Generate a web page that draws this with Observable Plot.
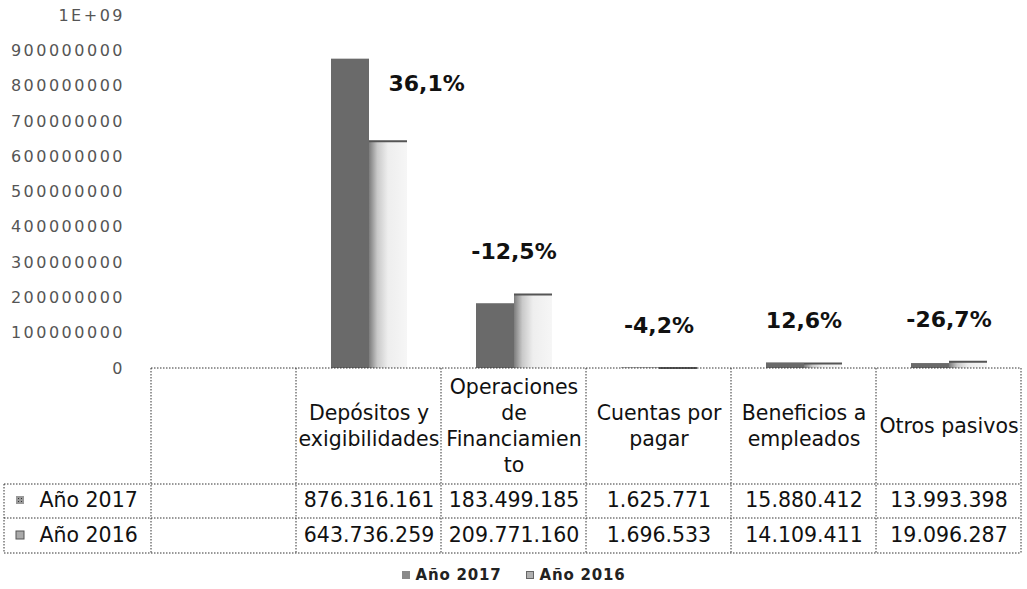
<!DOCTYPE html>
<html>
<head>
<meta charset="utf-8">
<script src="https://cdn.jsdelivr.net/npm/d3@7"></script>
<script src="https://cdn.jsdelivr.net/npm/@observablehq/plot@0.6"></script>
<style>
  body { margin: 0; background: #fff; }
  #chart svg { display: block; }
  #chart g[aria-label="y-axis tick label"] text { letter-spacing: 2.5px; }
  #legend { height: 29px; display: flex; justify-content: center; align-items: center; gap: 24px;
            font: bold 15px "DejaVu Sans", sans-serif; letter-spacing: 0.8px; color: #222; }
  #legend .item { display: flex; align-items: center; }
  #legend .sw { display: block; width: 8px; height: 8px; margin-right: 6px; flex: none; }
</style>
</head>
<body>
<div id="chart"></div>
<div id="legend"></div>
<script>
// ---- data ----
const categories = ["Depósitos y exigibilidades", "Operaciones de Financiamiento", "Cuentas por pagar", "Beneficios a empleados", "Otros pasivos"];
const blankColumn = " ";
const series = ["Año 2017", "Año 2016"];
const values2017 = [876316161, 183499185, 1625771, 15880412, 13993398];
const values2016 = [643736259, 209771160, 1696533, 14109411, 19096287];
const changeLabels = ["36,1%", "-12,5%", "-4,2%", "12,6%", "-26,7%"];
const headerLines = [["Depósitos y", "exigibilidades"], ["Operaciones", "de", "Financiamien", "to"], ["Cuentas por", "pagar"], ["Beneficios a", "empleados"], ["Otros pasivos"]];
const yTicks = [0, 100000000, 200000000, 300000000, 400000000, 500000000, 600000000, 700000000, 800000000, 900000000, 1000000000];
const yTickLabels = ["0", "100000000", "200000000", "300000000", "400000000", "500000000", "600000000", "700000000", "800000000", "900000000", "1E+09"];

// ---- derived tables ----
const rows = categories.flatMap((c, i) => [
  {cat: c, series: series[0], value: values2017[i]},
  {cat: c, series: series[1], value: values2016[i]}
]);
const labelRows = categories.map((c, i) => ({
  cat: c, label: changeLabels[i], v16: values2016[i], max: Math.max(values2017[i], values2016[i])
}));
const fmt = d3.formatLocale({decimal: ",", thousands: ".", grouping: [3], currency: ["", ""]}).format(",");
const tableCols = [{cat: blankColumn, header: "", a: "", b: ""}].concat(categories.map((c, i) => ({
  cat: c, header: headerLines[i].join("\n"), a: fmt(values2017[i]), b: fmt(values2016[i])
})));

const COL17 = "#6a6a6a";
const FONT = "DejaVu Sans, sans-serif";
const yMax = yTicks[yTicks.length - 1];
const cellText = {fx: "cat", frameAnchor: "bottom", lineAnchor: "middle", fontSize: 20.5, fill: "#111"};

const plot = Plot.plot({
  width: 1027, height: 560,
  marginTop: 15, marginBottom: 192, marginLeft: 149, marginRight: 5,
  style: {fontFamily: FONT, background: "white", overflow: "visible"},
  fx: {domain: [blankColumn, ...categories], padding: 0, axis: null, label: null},
  x: {domain: series, paddingInner: 0, paddingOuter: 0.89, axis: null},
  y: {domain: [0, yMax], axis: null},
  marks: [
    Plot.axisY({ticks: yTicks, tickFormat: d => yTickLabels[yTicks.indexOf(d)], tickSize: 0, tickPadding: 26.5,
                fontSize: 16, fill: "#555", label: null}),
    Plot.barY(rows.filter(d => d.series === series[0]), {fx: "cat", x: "series", y: "value", fill: COL17}),
    Plot.barY(rows.filter(d => d.series === series[1]), {fx: "cat", x: "series", y: "value", fill: "url(#g16)"}),
    Plot.tickY(rows.filter(d => d.series === series[1]), {fx: "cat", x: "series", y: "value", stroke: "#555", strokeWidth: 2}),
    // change labels: beside the tall pair, above the short ones
    Plot.text(labelRows.filter(d => d.max > yMax / 2), {fx: "cat", x: () => series[1], y: "v16", text: "label",
      textAnchor: "start", dy: -57, fontSize: 22, fontWeight: "bold", fill: "#111"}),
    Plot.text(labelRows.filter(d => d.max <= yMax / 2), {fx: "cat", y: "max", text: "label",
      dy: -42, fontSize: 22, fontWeight: "bold", fill: "#111"}),
    // data table text
    Plot.text(tableCols, {...cellText, text: "header", dy: 56, lineHeight: 1.27}),
    Plot.text(tableCols, {...cellText, text: "a", dy: 132}),
    Plot.text(tableCols, {...cellText, text: "b", dy: 167}),
    Plot.text(tableCols.filter(d => d.cat === blankColumn), {...cellText, text: () => series[0], frameAnchor: "bottom-left", textAnchor: "start", dx: -112, dy: 132}),
    Plot.text(tableCols.filter(d => d.cat === blankColumn), {...cellText, text: () => series[1], frameAnchor: "bottom-left", textAnchor: "start", dx: -112, dy: 167})
  ]
});

const svg = d3.select(plot);
svg.insert("defs", ":first-child").html(
  `<linearGradient id="g16" x1="0" x2="1" y1="0" y2="0">
     <stop offset="0" stop-color="#7c7c7c"/>
     <stop offset="0.22" stop-color="#c9c9c9"/>
     <stop offset="0.5" stop-color="#eeeeee"/>
     <stop offset="1" stop-color="#f6f6f6"/>
   </linearGradient>
   <pattern id="p17" width="3" height="3" patternUnits="userSpaceOnUse">
     <rect width="3" height="3" fill="#999"/><rect width="1" height="1" fill="#333"/>
   </pattern>`);

// table grid from the library's scales
const fx = plot.scale("fx"), ys = plot.scale("y");
const y0 = ys.apply(0);
const rowY = [y0, y0 + 116, y0 + 150, y0 + 185];
const edges = [blankColumn, ...categories].map(c => fx.apply(c));
const right = edges[edges.length - 1] + fx.bandwidth;
edges.push(right);
const tableLeft = 4;
const g = svg.append("g").attr("stroke", "#333").attr("stroke-width", 1).attr("stroke-dasharray", "1.5,1.5").attr("fill", "none");
g.append("line").attr("x1", edges[0]).attr("x2", right).attr("y1", rowY[0]).attr("y2", rowY[0]);
for (const y of rowY.slice(1)) g.append("line").attr("x1", tableLeft).attr("x2", right).attr("y1", y).attr("y2", y);
for (const x of edges) g.append("line").attr("x1", x).attr("x2", x).attr("y1", rowY[0]).attr("y2", rowY[3]);
g.append("line").attr("x1", tableLeft).attr("x2", tableLeft).attr("y1", rowY[1]).attr("y2", rowY[3]);
// swatches in table
svg.append("rect").attr("x", 16).attr("y", y0 + 128).attr("width", 8).attr("height", 8).attr("fill", "url(#p17)");
svg.append("rect").attr("x", 16).attr("y", y0 + 163).attr("width", 8).attr("height", 8).attr("fill", "#aaa").attr("stroke", "#555").attr("stroke-width", 1);

document.getElementById("chart").append(plot);

// legend
const legend = d3.select("#legend");
series.forEach((s, i) => {
  const it = legend.append("div").attr("class", "item");
  it.append("div").attr("class", "sw")
    .style("background", i === 0 ? "#8a8a8a" : "#b0b0b0")
    .style("box-sizing", "border-box")
    .style("border", i === 0 ? "none" : "1px solid #666");
  it.append("div").text(s);
});
</script>
</body>
</html>
